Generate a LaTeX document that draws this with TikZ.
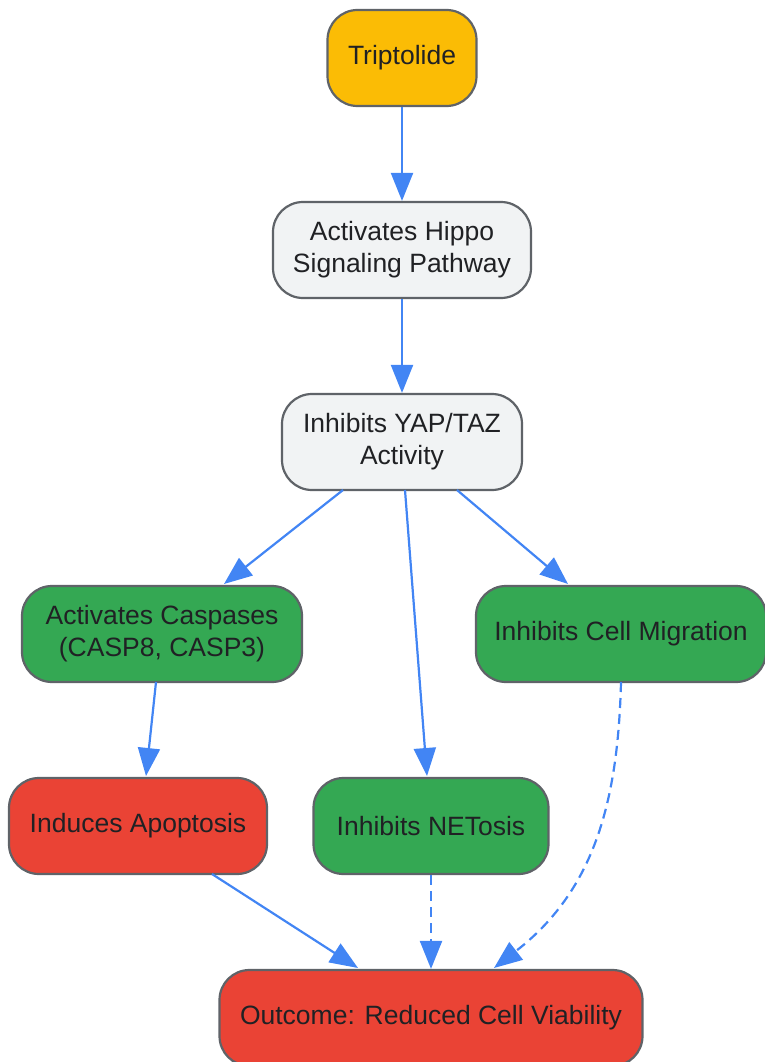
\documentclass[tikz,border=0pt]{standalone}
\usepackage{fontspec}
\setmainfont{Liberation Sans}
\usetikzlibrary{arrows.meta}
\definecolor{cyel}{HTML}{FBBC05}
\definecolor{cgray}{HTML}{F1F3F4}
\definecolor{cgreen}{HTML}{34A853}
\definecolor{cred}{HTML}{EA4335}
\definecolor{cborder}{HTML}{5F6368}
\definecolor{carrow}{HTML}{4285F4}
\definecolor{ctext}{HTML}{202124}
\begin{document}
\begin{tikzpicture}[x=1pt,y=-1pt,
  box/.style={draw=cborder, line width=2.2pt, rounded corners=30pt, minimum height=96pt,
    align=center, text=ctext, font=\fontsize{26.5}{32}\selectfont, inner sep=0pt},
  link/.style={draw=carrow, line width=2.2pt, -{Triangle[length=28pt,width=22pt]}},
  dlink/.style={link, dash pattern=on 10pt off 6pt}
]
\useasboundingbox (0,0) rectangle (765,1062);
\node[box, fill=cyel, minimum width=149pt] (trip) at (402,58) {Triptolide};
\node[box, fill=cgray, minimum width=258pt] (hippo) at (402,250) {Activates Hippo\\Signaling Pathway};
\node[box, fill=cgray, minimum width=240pt] (yap) at (402,442) {Inhibits YAP/TAZ\\Activity};
\node[box, fill=cgreen, minimum width=280pt] (casp) at (162,634) {Activates Caspases\\(CASP8, CASP3)};
\node[box, fill=cgreen, minimum width=290pt] (mig) at (621,634) {Inhibits Cell Migration};
\node[box, fill=cred, minimum width=258pt] (apo) at (138,826) {Induces Apoptosis};
\node[box, fill=cgreen, minimum width=235pt] (net) at (431,826) {Inhibits NETosis};
\node[box, fill=cred, minimum width=423pt] (out) at (431,1018) {Outcome: Reduced Cell Viability};
\draw[link] (trip.south) -- (hippo.north);
\draw[link] (hippo.south) -- (yap.north);
\draw[link] (343,490) -- (224,584);
\draw[link] (405,490) -- (427,776);
\draw[link] (457,490) -- (568,584);
\draw[link] (156,682) -- (146,776);
\draw[link] (212,874) -- (358,968);
\draw[dlink] (net.south) -- (out.north);
\draw[dlink] (621,682) .. controls (618,800) and (595,890) .. (494,968);
\end{tikzpicture}
\end{document}
